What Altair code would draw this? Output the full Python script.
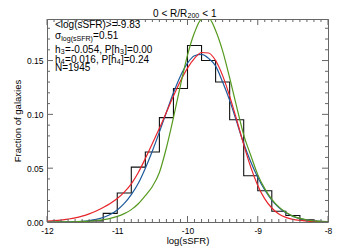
import altair as alt
import numpy as np
import pandas as pd

FONT = "Liberation Sans"

# ---------------- data ----------------
bin_left = [-11.6, -11.4, -11.2, -11.0, -10.8, -10.6, -10.4, -10.2, -10.0,
            -9.8, -9.6, -9.4, -9.2, -9.0, -8.8, -8.6, -8.4, -8.2]
bin_frac = [0.0005, 0.001, 0.008, 0.027, 0.051, 0.065, 0.097, 0.124, 0.164,
            0.150, 0.130, 0.095, 0.043, 0.029, 0.010, 0.006, 0.002, 0.0005]
bin_width = 0.2

curve_x = [-12.0, -11.9, -11.8, -11.7, -11.6, -11.5, -11.4, -11.3, -11.2, -11.1,
           -11.0, -10.9, -10.8, -10.7, -10.6, -10.5, -10.4, -10.3, -10.2, -10.1,
           -10.0, -9.9, -9.8, -9.7, -9.6, -9.5, -9.4, -9.3, -9.2, -9.1,
           -9.0, -8.9, -8.8, -8.7, -8.6, -8.5, -8.4, -8.3, -8.2, -8.1, -8.0]
red_y = [0.0008, 0.0012, 0.0018, 0.0027, 0.0038, 0.0054, 0.0075, 0.0102, 0.0135, 0.0172,
         0.0218, 0.0278, 0.0355, 0.0460, 0.0590, 0.0730, 0.0870, 0.1020, 0.1170, 0.1310,
         0.1430, 0.1520, 0.1575, 0.1570, 0.1500, 0.1360, 0.1170, 0.0950, 0.0720, 0.0510,
         0.0340, 0.0215, 0.0130, 0.0075, 0.0043, 0.0025, 0.0015, 0.0009, 0.0005, 0.0003, 0.0002]
blue_y = [0.0000, 0.0000, 0.0001, 0.0002, 0.0004, 0.0007, 0.0014, 0.0025, 0.0042, 0.0070,
          0.0112, 0.0173, 0.0255, 0.0360, 0.0500, 0.0660, 0.0835, 0.1020, 0.1200, 0.1357,
          0.1476, 0.1545, 0.1557, 0.1520, 0.1450, 0.1300, 0.1130, 0.0930, 0.0730, 0.0560,
          0.0415, 0.0297, 0.0203, 0.0134, 0.0085, 0.0052, 0.0031, 0.0017, 0.0010, 0.0005, 0.0002]
green_y = [0.0000, 0.0000, 0.0001, 0.0002, 0.0003, 0.0005, 0.0008, 0.0014, 0.0022, 0.0034,
           0.0052, 0.0078, 0.0115, 0.0170, 0.0245, 0.0330, 0.0460, 0.0690, 0.0970, 0.1270,
           0.1550, 0.1760, 0.1885, 0.1895, 0.1780, 0.1590, 0.1340, 0.1070, 0.0810, 0.0620,
           0.0440, 0.0310, 0.0210, 0.0140, 0.0090, 0.0055, 0.0033, 0.0020, 0.0010, 0.0005, 0.0003]

x_major = [-12, -11, -10, -9, -8]
y_major = [0.0, 0.05, 0.10, 0.15]
x_minor = [v for v in np.round(np.arange(-12, -7.999, 0.1), 1) if abs(v - round(v)) > 1e-6]
y_minor = [v for v in np.round(np.arange(0, 0.1886, 0.01), 2) if round(v * 100) % 5 != 0]

title_segs = [("0 < R/R", 10, 0), ("200", 7, 1.2), (" < 1", 10, 0)]
info_lines = [
    [("<log(sSFR)>=-9.83", 10, 0)],
    [("σ", 10, 0), ("log(sSFR)", 7, 1.5), ("=0.51", 10, 0)],
    [("h", 10, 0), ("3", 7, 1.2), ("=-0.054, P[h", 10, 0), ("3", 7, 1.2), ("]=0.00", 10, 0)],
    [("h", 10, 0), ("4", 7, 1.2), ("=0.016, P[h", 10, 0), ("4", 7, 1.2), ("]=0.24", 10, 0)],
    [("N=1945", 10, 0)],
]
info_baselines = [9, 20.3, 33.7, 43.7, 52]

# ---------------- layout ----------------
W, H = 281, 203
YMAX = 0.1886
FRAME = "#666666"

xs = alt.Scale(domain=[-12, -8], nice=False, zero=False)
ys = alt.Scale(domain=[0, YMAX], nice=False, zero=True)

x_axis = alt.Axis(values=x_major, labelExpr="'' + datum.value", domain=False, ticks=False,
                  tickSize=0, grid=False, labelPadding=4, labelFontSize=8.5, labelFont=FONT,
                  labelColor="black", labelFlush=False, labelOverlap=False,
                  title="log(sSFR)", titleFont=FONT, titleFontSize=9.5, titleFontWeight="normal",
                  titleColor="black", titleX=W / 2, titleY=21, titleBaseline="alphabetic",
                  titleAlign="center")
y_axis = alt.Axis(values=y_major, format=".2f", domain=False, ticks=False, tickSize=0,
                  grid=False, labelPadding=4, labelFontSize=8.5, labelFont=FONT,
                  labelColor="black", labelOverlap=False,
                  title="Fraction of galaxies", titleFont=FONT, titleFontSize=9.5,
                  titleFontWeight="normal", titleColor="black", titleX=-30, titleY=H / 2,
                  titleAngle=270, titleAlign="center", titleBaseline="middle")


def X(field):
    return alt.X(field, type="quantitative", scale=xs, axis=x_axis)


def Y(field):
    return alt.Y(field, type="quantitative", scale=ys, axis=y_axis)


hist_df = pd.DataFrame({"x": bin_left + [bin_left[-1] + bin_width],
                        "y": bin_frac + [bin_frac[-1]]})
hist = alt.Chart(hist_df).mark_line(interpolate="step-after", color="#111111",
                                    strokeWidth=1.1, clip=True).encode(x=X("x"), y=Y("y"))


def curve(vals, color):
    df = pd.DataFrame({"x": curve_x, "y": vals})
    return alt.Chart(df).mark_line(interpolate="monotone", color=color, strokeWidth=1.2,
                                   clip=True).encode(x=X("x"), y=Y("y"))


blue = curve(blue_y, "#1f5a9c")
red = curve(red_y, "#e8242b")
green = curve(green_y, "#559a1e")


def xticks(vals, length, top):
    df = pd.DataFrame({"t": vals})
    y0, y1 = (0, length) if top else (H, H - length)
    return alt.Chart(df).mark_rule(color=FRAME, strokeWidth=1).encode(
        x=X("t"), y=alt.value(y0), y2=alt.value(y1))


def yticks(vals, length, right):
    df = pd.DataFrame({"t": vals})
    x0, x1 = (W, W - length) if right else (0, length)
    return alt.Chart(df).mark_rule(color=FRAME, strokeWidth=1).encode(
        y=Y("t"), x=alt.value(x0), x2=alt.value(x1))


tick_layers = [
    xticks(x_major, 6, False), xticks(x_minor, 3, False),
    xticks(x_major, 6, True), xticks(x_minor, 3, True),
    yticks(y_major, 6, False), yticks(y_minor, 3, False),
    yticks(y_major, 6, True), yticks(y_minor, 3, True),
]

WTAB = {'<': 584, '>': 584, 'l': 222, 'o': 556, 'g': 556, '(': 333, ')': 333, 's': 500,
        'S': 667, 'F': 611, 'R': 722, '=': 584, '-': 333, '.': 278, ',': 278, ' ': 278,
        'P': 667, '[': 278, ']': 278, 'h': 556, 'N': 722, 'σ': 600, '/': 278}


def tw(s, size):
    return sum(WTAB.get(c, 556) for c in s) * size / 1000.0


def seg_layers(segs, x0, base):
    out = []
    x = x0
    for text, size, dy in segs:
        stripped = text.lstrip(" ")
        x += tw(text[:len(text) - len(stripped)], size)
        df = pd.DataFrame({"t": [stripped]})
        out.append(alt.Chart(df).mark_text(align="left", baseline="alphabetic", fontSize=size,
                                           font=FONT, color="black").encode(
            x=alt.value(x), y=alt.value(base + dy), text="t:N"))
        x += tw(stripped, size) + 0.3
    return out


title_w = sum(tw(t, s) for t, s, _ in title_segs)
text_layers = seg_layers(title_segs, W / 2 - 3 - title_w / 2, -2)
for segs, base in zip(info_lines, info_baselines):
    text_layers += seg_layers(segs, 8, base)

chart = alt.layer(hist, blue, red, green, *tick_layers, *text_layers).properties(
    width=W, height=H,
    autosize=alt.AutoSizeParams(type="none"),
    padding={"left": 39, "top": 11, "right": 6, "bottom": 24},
).configure_view(stroke=FRAME, strokeWidth=1)

chart.save("out.html", embed_options={"renderer": "svg", "actions": False})
